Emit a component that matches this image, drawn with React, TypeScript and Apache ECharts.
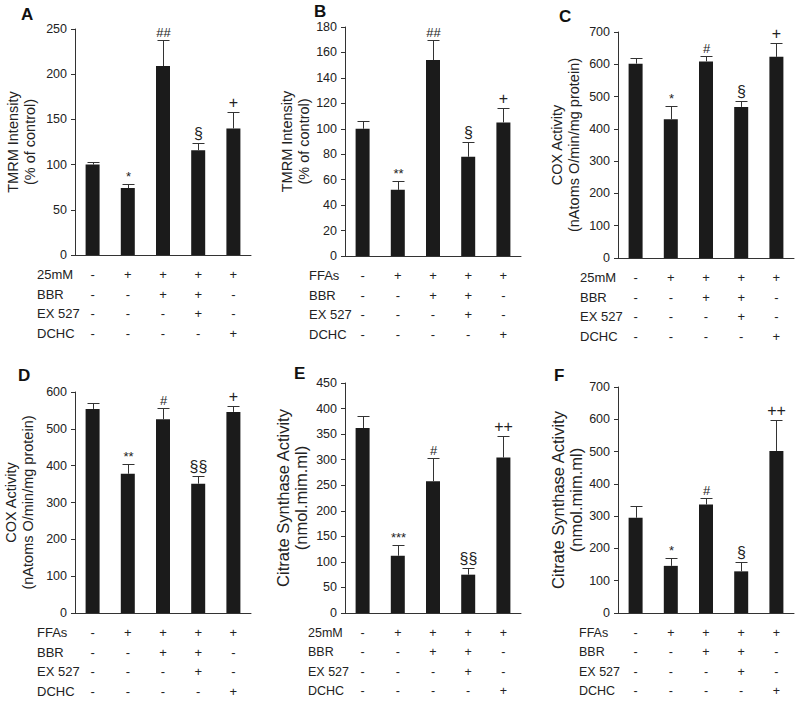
import React, { useEffect, useRef } from "react";
import * as echarts from "echarts";

// ---------- data ----------
const CATEGORIES = ["g1", "g2", "g3", "g4", "g5"];
const ROW_TREAT = ["-", "+", "+", "+", "+"];
const ROW_BBR = ["-", "-", "+", "+", "-"];
const ROW_EX527 = ["-", "-", "-", "+", "-"];
const ROW_DCHC = ["-", "-", "-", "-", "+"];

const A_MEAN = [100, 74, 209, 116, 140];
const A_SEM = [3, 4, 29, 8, 18];
const A_SIG = ["", "*", "##", "§", "+"];

const B_MEAN = [100, 52, 154, 78, 105];
const B_SEM = [6, 7, 16, 12, 11];
const B_SIG = ["", "**", "##", "§", "+"];

const C_MEAN = [602, 430, 609, 468, 623];
const C_SEM = [16, 42, 17, 18, 43];
const C_SIG = ["", "*", "#", "§", "+"];

const D_MEAN = [554, 378, 526, 351, 546];
const D_SEM = [16, 27, 30, 20, 16];
const D_SIG = ["", "**", "#", "§§", "+"];

const E_MEAN = [362, 112, 258, 75, 304];
const E_SEM = [23, 21, 46, 13, 43];
const E_SIG = ["", "***", "#", "§§", "++"];

const F_MEAN = [295, 146, 336, 129, 502];
const F_SEM = [35, 24, 21, 29, 97];
const F_SIG = ["", "*", "#", "§", "++"];

const Y_MAX = [250, 180, 700, 600, 450, 700];
const Y_INTERVAL = [50, 20, 100, 100, 50, 100];
const TITLES = [
  "TMRM Intensity\n(% of control)",
  "TMRM Intensity\n(% of control)",
  "COX Activity\n(nAtoms O/min/mg protein)",
  "COX Activity\n(nAtoms O/min/mg protein)",
  "Citrate Synthase Activity\n(nmol.mim.ml)",
  "Citrate Synthase Activity\n(nmol.mim.ml)",
];
const TREAT_NAMES = ["25mM", "FFAs", "25mM", "FFAs", "25mM", "FFAs"];
const ROW_NAMES = ["BBR", "EX 527", "DCHC"];
const LETTERS = ["A", "B", "C", "D", "E", "F"];

const MEANS = [A_MEAN, B_MEAN, C_MEAN, D_MEAN, E_MEAN, F_MEAN];
const SEMS = [A_SEM, B_SEM, C_SEM, D_SEM, E_SEM, F_SEM];
const SIGS = [A_SIG, B_SIG, C_SIG, D_SIG, E_SIG, F_SIG];

// ---------- layout ----------
const GRIDS = [
  { left: 75, top: 29, width: 176, height: 226 },
  { left: 345, top: 27, width: 176, height: 229 },
  { left: 618, top: 32, width: 176, height: 226 },
  { left: 75, top: 392, width: 176, height: 221 },
  { left: 345, top: 383, width: 176, height: 230 },
  { left: 618, top: 387, width: 176, height: 226 },
];
const ROW_LABEL_X = [37, 309, 580, 37, 308, 579];
const TITLE_GAP = [36.5, 33, 36, 39, 35, 33.5];
const TITLE_FONT = [14.5, 14.5, 14.5, 14.5, 16.5, 16.5];
const TITLE_LH = [16.7, 16.7, 16.7, 16.7, 18, 18];
const TABLE_FONT = [13, 13, 13, 13, 12.5, 12.5];
const LETTER_POS = [
  [21, 14],
  [314, 11],
  [559, 16],
  [18, 375],
  [294, 373],
  [554, 375],
];

const FONT = "Liberation Sans, Arial, Helvetica, sans-serif";
const INK = "#222";
const BAR = "#1b1b1b";
const ROW_LH = 19.5;

function buildOption() {
  const grid: any[] = [];
  const xAxis: any[] = [];
  const yAxis: any[] = [];
  const series: any[] = [];
  const graphic: any[] = [];
  const rows = [ROW_TREAT, ROW_BBR, ROW_EX527, ROW_DCHC];

  for (let p = 0; p < 6; p++) {
    const g = GRIDS[p];
    grid.push({ ...g, containLabel: false });
    xAxis.push({
      type: "category",
      gridIndex: p,
      data: CATEGORIES,
      axisTick: { show: false },
      axisLine: { lineStyle: { color: "#333", width: 1 } },
      axisLabel: {
        interval: 0,
        margin: 10,
        lineHeight: ROW_LH,
        fontSize: TABLE_FONT[p],
        color: INK,
        fontFamily: FONT,
        formatter: (_v: string, i: number) => rows.map((r) => r[i]).join("\n"),
      },
    });
    yAxis.push({
      type: "value",
      gridIndex: p,
      min: 0,
      max: Y_MAX[p],
      interval: Y_INTERVAL[p],
      name: TITLES[p],
      nameLocation: "middle",
      nameRotate: 90,
      nameGap: TITLE_GAP[p],
      nameTextStyle: {
        fontSize: TITLE_FONT[p],
        lineHeight: TITLE_LH[p],
        color: INK,
        fontFamily: FONT,
        align: "center",
      },
      splitLine: { show: false },
      axisLine: { show: true, lineStyle: { color: "#333", width: 1 } },
      axisTick: { show: true, length: 4, lineStyle: { color: "#333" } },
      axisLabel: { margin: 8, fontSize: 12.5, color: INK, fontFamily: FONT },
    });

    const means = MEANS[p];
    const sems = SEMS[p];
    const sigs = SIGS[p];
    series.push({
      type: "bar",
      xAxisIndex: p,
      yAxisIndex: p,
      data: means,
      barWidth: 14,
      itemStyle: { color: BAR },
      z: 2,
    });
    series.push({
      type: "custom",
      xAxisIndex: p,
      yAxisIndex: p,
      z: 3,
      data: means.map((m, i) => [i, m, sems[i]]),
      renderItem: (params: any, api: any) => {
        const i = api.value(0);
        const m = api.value(1);
        const e = api.value(2);
        const base = api.coord([i, m]);
        const top = api.coord([i, m + e]);
        const x = Math.round(base[0]) + 0.5;
        const yt = Math.round(top[1]) + 0.5;
        const sig = sigs[params.dataIndex];
        const big = sig.indexOf("§") >= 0 || sig.indexOf("+") >= 0;
        return {
          type: "group",
          children: [
            {
              type: "line",
              shape: { x1: x, y1: base[1], x2: x, y2: yt },
              style: { stroke: "#333", lineWidth: 1 },
            },
            {
              type: "line",
              shape: { x1: x - 6, y1: yt, x2: x + 6, y2: yt },
              style: { stroke: "#333", lineWidth: 1 },
            },
            {
              type: "text",
              x: x,
              y: yt - 2,
              style: {
                text: sig,
                fill: INK,
                fontSize: big ? 16 : 13,
                fontFamily: FONT,
                align: "center",
                verticalAlign: "bottom",
              },
            },
          ],
        };
      },
    });

    // row labels
    const names = [TREAT_NAMES[p], ...ROW_NAMES];
    const zeroY = g.top + g.height;
    names.forEach((n, r) => {
      graphic.push({
        type: "text",
        x: ROW_LABEL_X[p],
        y: zeroY + 10 + ROW_LH / 2 + r * ROW_LH,
        style: {
          text: n,
          fill: INK,
          fontSize: TABLE_FONT[p],
          fontFamily: FONT,
          align: "left",
          verticalAlign: "middle",
        },
      });
    });
    // panel letter
    graphic.push({
      type: "text",
      x: LETTER_POS[p][0],
      y: LETTER_POS[p][1],
      style: {
        text: LETTERS[p],
        fill: "#111",
        fontSize: 17,
        fontWeight: "bold",
        fontFamily: FONT,
        align: "left",
        verticalAlign: "middle",
      },
    });
  }

  return {
    animation: false,
    backgroundColor: "#fff",
    textStyle: { fontFamily: FONT },
    grid,
    xAxis,
    yAxis,
    series,
    graphic,
  };
}

export default function App() {
  const ref = useRef<HTMLDivElement>(null);
  useEffect(() => {
    if (!ref.current) return;
    const chart = echarts.init(ref.current, undefined, { renderer: "svg" });
    chart.setOption(buildOption() as any);
    return () => chart.dispose();
  }, []);
  return (
    <div
      ref={ref}
      style={{ position: "fixed", left: 0, top: 0, width: 800, height: 703, background: "#fff" }}
    />
  );
}
